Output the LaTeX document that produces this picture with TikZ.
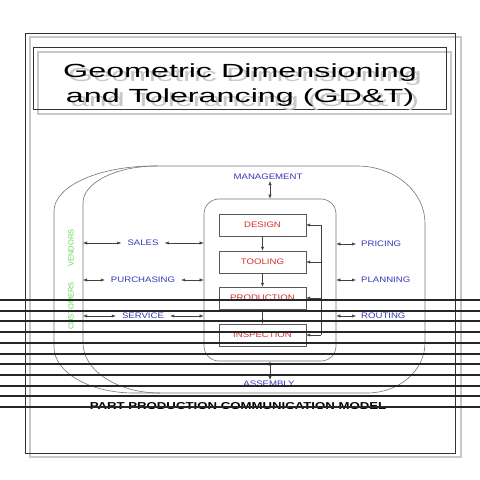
\documentclass[tikz,border=0pt]{standalone}
\usepackage{fontspec}
\setmainfont{Liberation Sans}
\newfontfamily\titlefont{Liberation Sans}[FakeStretch=1.7]
\newfontfamily\labelfont{Liberation Sans}[FakeStretch=1.2]
\newfontfamily\capfont{Liberation Sans}[FakeStretch=1.32]
\usetikzlibrary{arrows.meta}

\definecolor{lblblue}{RGB}{55,55,185}
\definecolor{boxred}{RGB}{215,45,45}
\definecolor{vgreen}{RGB}{95,215,80}
\definecolor{shadowgray}{RGB}{200,200,200}

\tikzset{
    proc/.style={draw=black!65, minimum width=87pt, minimum height=22pt,
        inner sep=0pt, text=boxred, font=\labelfont\fontsize{8}{9}\selectfont},
    lbl/.style={text=lblblue, inner xsep=6pt, inner ysep=1pt,
        font=\labelfont\fontsize{8}{9}\selectfont},
    sidelbl/.style={text=vgreen, rotate=90, font=\fontsize{7.5}{9}\selectfont},
    link/.style={draw=black!75, line width=0.5pt,
        {Latex[length=4pt,width=3.2pt]}-{Latex[length=4pt,width=3.2pt]}},
    flow/.style={draw=black!75, line width=0.5pt, -{Latex[length=4pt,width=3.2pt]}},
    ring/.style={draw=black!55, line width=0.6pt},
}

\begin{document}
\begin{tikzpicture}[x=1pt, y=-1pt]
    \useasboundingbox (0,0) rectangle (480,480);
    % page frame and title box, each with a grey shadow
    \draw[shadowgray, line width=1.2pt] (30,37) rectangle (461,457);
    \draw[black!80, line width=0.8pt] (25,33) rectangle (455,453);
    \draw[shadowgray, line width=1.2pt] (38,52) rectangle (451,114);
    \draw[black!80, line width=0.8pt] (33,47.5) rectangle (446,109);
    \node[text=shadowgray, anchor=base, font=\titlefont\fontsize{19}{22}\selectfont]
        (title1s) at (245,81) {Geometric Dimensioning};
    \node[text=shadowgray, anchor=base, font=\titlefont\fontsize{19}{22}\selectfont]
        (title2s) at (245,106) {and Tolerancing (GD\&T)};
    \node[anchor=base, font=\titlefont\fontsize{19}{22}\selectfont]
        (title1) at (240,77) {Geometric Dimensioning};
    \node[anchor=base, font=\titlefont\fontsize{19}{22}\selectfont]
        (title2) at (240,102) {and Tolerancing (GD\&T)};

    % customers ring, vendors ring shares its top, bottom and right side
    \draw[ring] (154,166) -- (357,166)
        arc[start angle=90, end angle=0, x radius=68pt, y radius=57pt]
        -- (425,343)
        arc[start angle=0, end angle=-90, x radius=58pt, y radius=50pt]
        -- (134,393)
        arc[start angle=270, end angle=180, x radius=80pt, y radius=46pt]
        -- (54,211)
        arc[start angle=180, end angle=90, x radius=100pt, y radius=45pt] -- cycle;
    \draw[ring] (157,166)
        arc[start angle=90, end angle=180, x radius=74pt, y radius=37pt]
        -- (83,343)
        arc[start angle=180, end angle=270, x radius=77pt, y radius=50pt];
    \coordinate (vl) at (83,0);
    \node[sidelbl] (vendors) at (71,248) {VENDORS};
    \node[sidelbl] (customers) at (71,306) {CUSTOMERS};

    % production core
    \node[ring, rounded corners=15pt, minimum width=132pt, minimum height=162pt]
        (core) at (270,280) {};
    \node[proc] (design) at (262.5,225) {DESIGN};
    \node[proc] (tooling) at (262.5,262) {TOOLING};
    \node[proc] (production) at (262.5,298) {PRODUCTION};
    \node[proc] (inspection) at (262.5,335) {INSPECTION};
    \draw[flow] (design) -- (tooling);
    \draw[flow] (tooling) -- (production);
    \draw[flow] (production) -- (inspection);
    % feedback bus
    \coordinate (fb) at (321,0);
    \draw[draw=black!75, line width=0.5pt] (fb |- design.east) -- (fb |- inspection.east);
    \foreach \b in {design, tooling, production, inspection}
        \draw[flow] (fb |- \b.east) -- (\b.east);

    % labels round the core
    \node[lbl] (management) at (268,177) {MANAGEMENT};
    \node[lbl] (assembly) at (269,384) {ASSEMBLY};
    \draw[link] (core.north) -- (core.north |- management.south);
    \draw[link] (core.south) -- (core.south |- assembly.north);

    \node[lbl] (sales) at (143,243) {SALES};
    \node[lbl] (purchasing) at (143,280) {PURCHASING};
    \node[lbl] (service) at (143,316) {SERVICE};
    \foreach \l in {sales, purchasing, service} {
        \draw[link] (vl |- \l.west) -- (\l.west);
        \draw[link] (\l.east) -- (core.west |- \l.east);
    }

    \node[lbl, anchor=west, inner xsep=5pt] (pricing) at (356,244) {PRICING};
    \node[lbl, anchor=west, inner xsep=5pt] (planning) at (356,280) {PLANNING};
    \node[lbl, anchor=west, inner xsep=5pt] (routing) at (356,316) {ROUTING};
    \foreach \r in {pricing, planning, routing}
        \draw[link] (core.east |- \r.west) -- (\r.west);

    \node[font=\capfont\bfseries\fontsize{10}{12}\selectfont] (caption) at (238,406)
        {PART PRODUCTION COMMUNICATION MODEL};

    % heavy rules across the lower half
    \foreach \i in {0,...,10}
        \draw[black!85, line width=2pt] (0,{300+10.7*\i}) -- (480,{300+10.7*\i});
\end{tikzpicture}
\end{document}
